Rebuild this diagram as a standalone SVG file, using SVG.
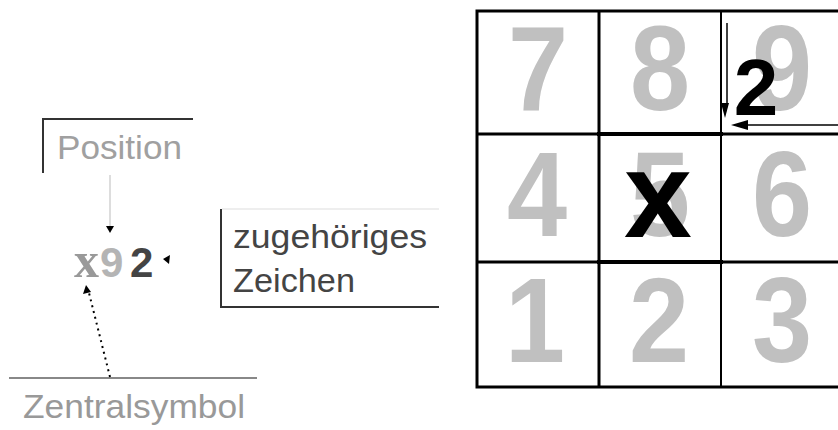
<svg xmlns="http://www.w3.org/2000/svg" width="838" height="430" viewBox="0 0 838 430">
<defs>
<style>
.grid{stroke:#000;fill:none;stroke-linecap:square}
.dig{font-family:"Liberation Sans",Arial,sans-serif;font-weight:bold;font-size:120px;fill:#c0c0c0;text-anchor:middle}
.lbl{font-family:"Liberation Sans",Arial,sans-serif;font-size:33px}
.ah{fill:#000}
</style>
</defs>
<rect width="838" height="430" fill="#fff"/>
<g id="grid">
<g id="cell7" transform="translate(538 110) scale(0.9 1)"><text class="dig">7</text></g>
<g id="cell8" transform="translate(660 110) scale(0.9 1)"><text class="dig">8</text></g>
<g id="cell9" transform="translate(782 110) scale(0.9 1)"><text class="dig">9</text></g>
<g id="cell4" transform="translate(537 236) scale(0.9 1)"><text class="dig">4</text></g>
<g id="cell5" transform="translate(660 236) scale(0.9 1)"><text class="dig">5</text></g>
<g id="cell6" transform="translate(782 236) scale(0.9 1)"><text class="dig">6</text></g>
<g id="cell1" transform="translate(535 362) scale(0.9 1)"><text class="dig">1</text></g>
<g id="cell2" transform="translate(659 362) scale(0.9 1)"><text class="dig">2</text></g>
<g id="cell3" transform="translate(782 362) scale(0.9 1)"><text class="dig">3</text></g>
<path class="grid" stroke-width="3" d="M477 11H838M477 11V387M599 11V387M477 134H838M477 262H838M477 387H838"/>
<path class="grid" stroke-width="2" d="M721 11V387"/>
<path class="grid" stroke-width="4" d="M599 134H721M599 262H721"/>
<g id="center-x"><text x="658" y="237" font-family="Liberation Sans,Arial,sans-serif" font-weight="bold" font-size="122" fill="#000" text-anchor="middle">x</text></g>
<g id="pos-2"><text x="756" y="115" font-family="Liberation Sans,Arial,sans-serif" font-weight="bold" font-size="80" fill="#000" text-anchor="middle">2</text></g>
</g>
<g id="position-label">
<path d="M43 173V119H193" stroke="#333" stroke-width="2" fill="none"/>
<text class="lbl" x="57" y="159" fill="#a0a0a0" textLength="125" lengthAdjust="spacingAndGlyphs">Position</text>
</g>
<g id="symbol">
<text x="74" y="277" font-family="Liberation Serif,Times New Roman,serif" font-weight="bold" font-size="50" fill="#999">x</text>
<text x="100" y="277" font-family="Liberation Sans,Arial,sans-serif" font-weight="bold" font-size="42" fill="#b4b4b4">9</text>
<text x="130" y="277" font-family="Liberation Sans,Arial,sans-serif" font-weight="bold" font-size="42" fill="#444">2</text>
</g>
<g id="zeichen-label">
<path d="M222 209H439" stroke="#ddd" stroke-width="1" fill="none"/>
<path d="M221 209V307H439" stroke="#333" stroke-width="2" fill="none"/>
<text class="lbl" x="233" y="248" fill="#444" textLength="194" lengthAdjust="spacingAndGlyphs">zugehöriges</text>
<text class="lbl" x="233" y="292" fill="#444" textLength="122" lengthAdjust="spacingAndGlyphs">Zeichen</text>
</g>
<g id="zentral-label">
<path d="M9 378H257" stroke="#888" stroke-width="2" fill="none"/>
<text class="lbl" x="23" y="418" fill="#999" textLength="222" lengthAdjust="spacingAndGlyphs">Zentralsymbol</text>
</g>
<g id="connectors">
<path d="M110 175V227" stroke="#bbb" stroke-width="1" fill="none"/>
<polygon class="ah" points="106,226 114,226 110,233"/>
<polygon class="ah" points="163,259 170,255 169,264"/>
<path d="M110 377L89 293" stroke="#000" stroke-width="2" stroke-dasharray="2 4" fill="none"/>
<polygon class="ah" points="86,285 83,294 91,292"/>
<path d="M727 23V104" stroke="#000" stroke-width="1.5" fill="none"/>
<polygon class="ah" points="721,103 729,103 725,118"/>
<path d="M838 125H740" stroke="#000" stroke-width="1.5" fill="none"/>
<polygon class="ah" points="731,125 748,120 748,130"/>
</g>
</svg>
